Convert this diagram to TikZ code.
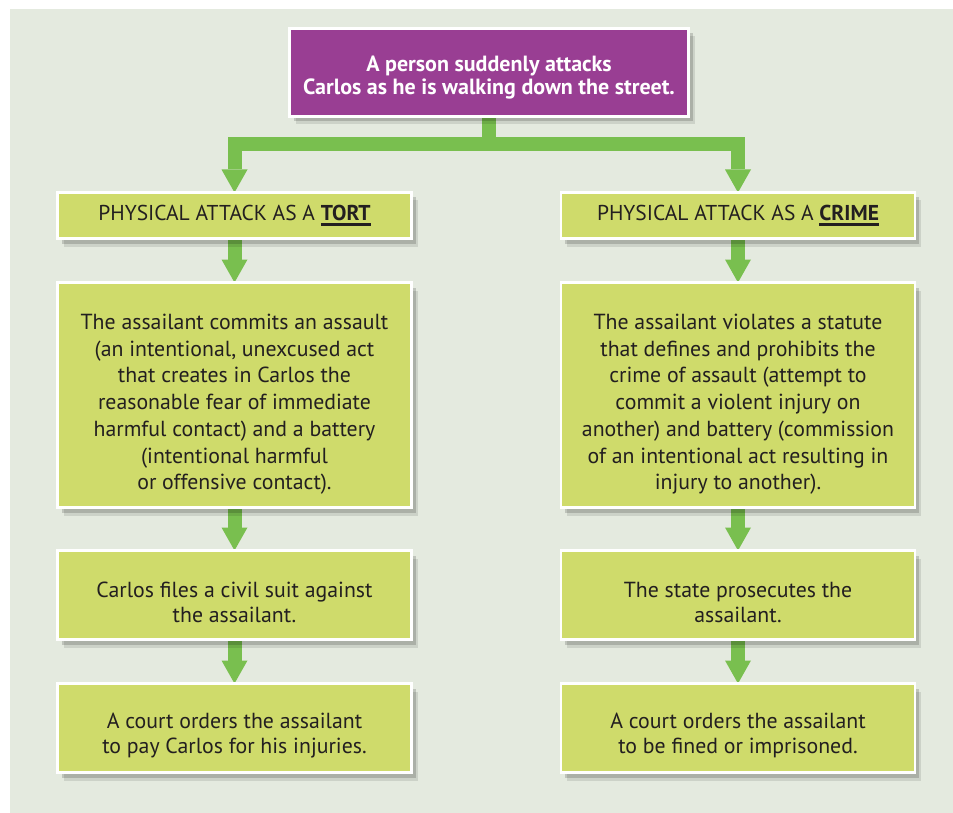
\documentclass[tikz,border=0pt]{standalone}
\usepackage{fontspec}
\setmainfont{PT Sans}
\usetikzlibrary{positioning, arrows.meta, shadows}
\definecolor{panelbg}{HTML}{E4EADF}
\definecolor{boxgreen}{HTML}{CFDB6B}
\definecolor{linkgreen}{HTML}{79BF4F}
\definecolor{plum}{HTML}{993E93}
\definecolor{ink}{HTML}{231F20}
\pgfdeclarelayer{panel}
\pgfdeclarelayer{links}
\pgfsetlayers{panel,links,main}
% bold word with a heavy rule under it
\newcommand\keyword[1]{\setbox0\hbox{\bfseries #1}\rlap{\rule[-4.8pt]{\wd0}{2.4pt}}\box0}
% taller first line, pushes the text block down a little
\newcommand\lead[1]{\rule{0pt}{#1}}

\begin{document}
\begin{tikzpicture}[x=1pt, y=-1pt,
    every node/.style={align=center, text=ink, outer sep=0pt},
    card/.style={draw=white, line width=2.6pt, fill=boxgreen, minimum width=354pt,
      drop shadow={shadow xshift=6pt, shadow yshift=-8pt, opacity=0.10, fill=black},
      drop shadow={shadow xshift=4pt, shadow yshift=-5pt, opacity=0.16, fill=black}},
    link/.style={draw=linkgreen, line width=14pt, line join=miter,
      -{Triangle[width=26pt, length=23pt, line width=0pt, fill=linkgreen]}}]
    \useasboundingbox (0,0) rectangle (953,813);
    \begin{pgfonlayer}{panel}
      \fill[panelbg] (10,9) rectangle (953,813);
    \end{pgfonlayer}

    \node[card, fill=plum, minimum width=399pt, minimum height=88pt, text=white,
      font=\bfseries\fontsize{22}{23.5}\selectfont] (attack) at (489,72.5)
      {\lead{26pt}A person suddenly attacks\\ Carlos as he is walking down the street.};

    \node[card, minimum height=46pt, font=\fontsize{21.5}{24}\selectfont] (tort) at (234.5,215.5)
      {PHYSICAL ATTACK AS A \keyword{TORT}};
    \node[card, minimum height=46pt, font=\fontsize{21.5}{24}\selectfont] (crime) at (738,215.5)
      {PHYSICAL ATTACK AS A \keyword{CRIME}};

    \node[card, minimum height=225pt, below=44pt of tort, font=\fontsize{21.8}{26.7}\selectfont] (tortact)
      {\lead{34pt}The assailant commits an assault\\ (an intentional, unexcused act\\ that creates in Carlos the\\ reasonable fear of immediate\\ harmful contact) and a battery\\ (intentional harmful\\ or offensive contact).};
    \node[card, minimum height=225pt, below=44pt of crime, font=\fontsize{21.8}{26.7}\selectfont] (crimeact)
      {\lead{34pt}The assailant violates a statute\\ that defines and prohibits the\\ crime of assault (attempt to\\ commit a violent injury on\\ another) and battery (commission\\ of an intentional act resulting in\\ injury to another).};

    \node[card, minimum height=89pt, below=43pt of tortact, font=\fontsize{21.8}{25}\selectfont] (suit)
      {\lead{30pt}Carlos files a civil suit against\\ the assailant.};
    \node[card, minimum height=89pt, below=43pt of crimeact, font=\fontsize{21.8}{25}\selectfont] (prosecute)
      {\lead{30pt}The state prosecutes the\\ assailant.};

    \node[card, minimum height=89pt, below=44pt of suit, font=\fontsize{21.8}{25}\selectfont] (pay)
      {\lead{30pt}A court orders the assailant\\ to pay Carlos for his injuries.};
    \node[card, minimum height=89pt, below=44pt of prosecute, font=\fontsize{21.8}{25}\selectfont] (jail)
      {\lead{30pt}A court orders the assailant\\ to be fined or imprisoned.};

    \begin{pgfonlayer}{links}
      \coordinate (split) at (attack.south |- 0,144);
      \draw[link] (attack.south) -- (split) -| (tort.north);
      \draw[link] (split) -| (crime.north);
      \draw[link] (tort) -- (tortact);
      \draw[link] (tortact) -- (suit);
      \draw[link] (suit) -- (pay);
      \draw[link] (crime) -- (crimeact);
      \draw[link] (crimeact) -- (prosecute);
      \draw[link] (prosecute) -- (jail);
    \end{pgfonlayer}
\end{tikzpicture}
\end{document}
